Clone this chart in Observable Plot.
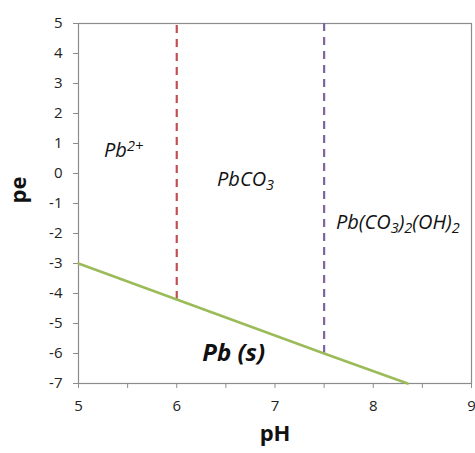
<!DOCTYPE html>
<html><head><meta charset="utf-8">
<script src="https://cdn.jsdelivr.net/npm/d3@7"></script>
<script src="https://cdn.jsdelivr.net/npm/@observablehq/plot@0.6"></script>
<style>body{margin:0;background:#fff}</style>
</head><body><div id="chart"></div>
<script>
// Boundary Pb(s) / dissolved & solid phases (green line)
const boundaryPH = [5, 6, 7.5, 8.35];
const boundaryPE = [-3, -4.2, -6, -7];
// Vertical dashed boundaries
const dashPH = [6, 7.5];
const dashBottom = [-4.2, -6];
const dashTop = [5, 5];
const dashColors = ["#c0504d", "#8064a2"];
// Region labels
const labelText = ["Pb^{2+}", "PbCO_{3}", "Pb(CO_{3})_{2}(OH)_{2}"];
const labelPH = [5.26, 6.41, 7.62];
const labelPE = [0.75, -0.2, -1.65];
const solidText = ["Pb (s)"];
const solidPH = [6.26];
const solidPE = [-6.0];
// Ticks
const xTicks = [5, 6, 7, 8, 9];
const xMinor = [5.5, 6.5, 7.5, 8.5];
const yTicks = [-7, -6, -5, -4, -3, -2, -1, 0, 1, 2, 3, 4, 5];

const boundary = boundaryPH.map((x, i) => ({x, y: boundaryPE[i]}));
const dashes = dashPH.map((x, i) => ({x, y1: dashBottom[i], y2: dashTop[i], c: dashColors[i]}));
const labels = labelText.map((t, i) => ({t, x: labelPH[i], y: labelPE[i]}));
const solid = solidText.map((t, i) => ({t, x: solidPH[i], y: solidPE[i]}));

const FONT = "'Open Sans', sans-serif";
const fmt = d => String(d);
const chart = Plot.plot({
  width: 475, height: 453,
  marginLeft: 78, marginRight: 4, marginTop: 23, marginBottom: 70,
  style: {fontFamily: FONT, color: "#222", background: "#fff"},
  x: {domain: [5, 9]},
  y: {domain: [-7, 5]},
  marks: [
    Plot.frame({stroke: "#8c8c8c", strokeWidth: 1.2}),
    Plot.axisY({ticks: yTicks, tickFormat: fmt, tickSize: 5, tickPadding: 11, fontSize: 15, label: null, stroke: "#8c8c8c"}),
    Plot.axisX({ticks: xTicks, tickFormat: fmt, tickSize: 5, tickPadding: 12, fontSize: 15, label: null, stroke: "#8c8c8c"}),
    Plot.axisX({ticks: xMinor, tickSize: 5, tickFormat: () => "", label: null, stroke: "#8c8c8c"}),
    Plot.ruleX(dashes, {x: "x", y1: "y1", y2: "y2", stroke: "c", strokeWidth: 2.2, strokeDasharray: "8,6"}),
    Plot.line(boundary, {x: "x", y: "y", stroke: "#9bbb59", strokeWidth: 2.5}),
    Plot.text(labels, {x: "x", y: "y", text: "t", textAnchor: "start", fontSize: 20, fontStyle: "italic", fill: "#111", className: "rich"}),
    Plot.text(solid, {x: "x", y: "y", text: "t", textAnchor: "start", fontSize: 24, fontStyle: "italic", fontWeight: "bold", fill: "#111"}),
    Plot.text(["pH"], {frameAnchor: "bottom", dy: 57, fontSize: 22, fontWeight: "bold", fill: "#111"}),
    Plot.text(["pe"], {frameAnchor: "left", dx: -60, rotate: -90, fontSize: 22, fontWeight: "bold", fill: "#111"})
  ]
});
chart.querySelectorAll(".rich text").forEach(el => {
  const s = el.textContent;
  el.textContent = "";
  const re = /(\^|_)\{([^}]*)\}/g;
  let last = 0, m, shift = 0;
  const NS = "http://www.w3.org/2000/svg";
  const add = (txt, kind) => {
    if (!txt) return;
    const ts = document.createElementNS(NS, "tspan");
    ts.textContent = txt;
    const target = kind === "^" ? -6 : kind === "_" ? 4 : 0;
    if (target !== shift) { ts.setAttribute("dy", target - shift); shift = target; }
    if (kind) ts.setAttribute("font-size", "14.5");
    el.appendChild(ts);
  };
  while ((m = re.exec(s))) { add(s.slice(last, m.index)); add(m[2], m[1]); last = re.lastIndex; }
  add(s.slice(last));
});
document.getElementById("chart").appendChild(chart);
</script>
</body></html>
